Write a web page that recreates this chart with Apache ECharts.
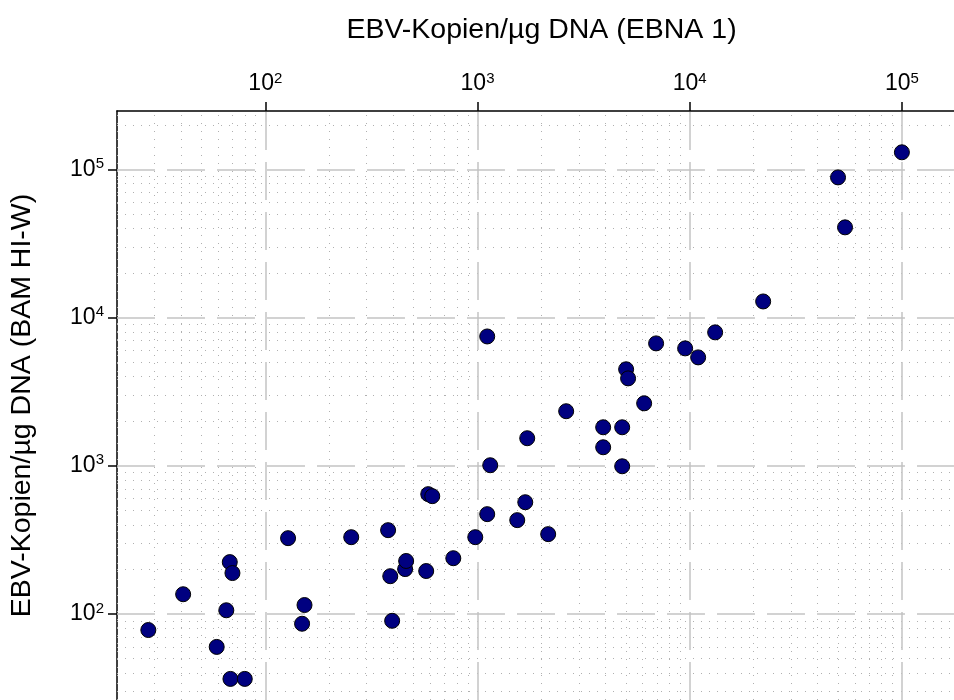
<!DOCTYPE html>
<html>
<head>
<meta charset="utf-8">
<script src="https://cdn.jsdelivr.net/npm/echarts@6/dist/echarts.min.js"></script>
<style>
  html, body { margin: 0; padding: 0; background: #fff; }
  #chart { width: 954px; height: 700px; }
</style>
</head>
<body>
<div id="chart"></div>
<script>
// EBNA 1 (x) vs BAM HI-W (y), copies per ug DNA
let ebna = [28.1, 41, 59, 65.5, 68, 70, 68.5, 80, 128, 153, 149, 254, 379, 388, 396,
    456, 461, 573, 586, 612, 769, 976, 1111, 1111, 1148, 1539, 1679, 1715, 2153,
    2617, 3910, 3910, 4806, 4806, 5016, 5124, 6099, 6944, 9517, 10960, 13180,
    22190, 50000, 53950, 100000];
let bamhiw = [78, 136, 60, 106, 224, 189, 36.5, 36.5, 325, 115, 86, 330, 368, 180, 90,
    201, 228, 195, 644, 624, 238, 330, 472, 7460, 1009, 430, 568, 1535, 346,
    2335, 1820, 1334, 993, 1820, 4480, 3890, 2640, 6700, 6200, 5390, 7950,
    12850, 88300, 40640, 130400];

let decades = [100, 1000, 10000, 100000];
let minorX = [20, 30, 40, 50, 60, 70, 80, 90, 200, 300, 400, 500, 600, 700, 800, 900,
    2000, 3000, 4000, 5000, 6000, 7000, 8000, 9000,
    20000, 30000, 40000, 50000, 60000, 70000, 80000, 90000];
let minorY = [30, 40, 50, 60, 70, 80, 90, 200, 300, 400, 500, 600, 700, 800, 900,
    2000, 3000, 4000, 5000, 6000, 7000, 8000, 9000,
    20000, 30000, 40000, 50000, 60000, 70000, 80000, 90000, 200000];

let font = 'Liberation Sans';
let ctx = document.getElementById("chart");
let chart = echarts.init(ctx);

function powLabel(v){
    let e = Math.log10(v);
    if (Math.abs(e - Math.round(e)) > 1e-6) return '';
    return '{b|10}{s|' + Math.round(e) + '}';
}
let labelRich = {
    b: { fontSize: 23, fontFamily: font, color: '#000', lineHeight: 26 },
    s: { fontSize: 15, fontFamily: font, color: '#000', verticalAlign: 'top', lineHeight: 26 }
};

let minorStyle = { color: '#b0b0b0', width: 1, type: [1, 7] };
let majorStyle = { color: '#c4c4c4', width: 1.5, type: [38, 12] };

let gridLines = []
    .concat(minorX.map(v => ({ xAxis: v, lineStyle: minorStyle })))
    .concat(minorY.map(v => ({ yAxis: v, lineStyle: minorStyle })))
    .concat(decades.map(v => ({ xAxis: v, lineStyle: majorStyle })))
    .concat(decades.map(v => ({ yAxis: v, lineStyle: majorStyle })));

let option = {
    animation: false,
    grid: { left: 117, top: 111, right: 0, bottom: 0 },
    xAxis: {
        type: 'log',
        position: 'top',
        min: 20,
        max: 176000,
        name: 'EBV-Kopien/µg DNA (EBNA 1)',
        nameLocation: 'middle',
        nameGap: 66,
        nameTextStyle: { fontSize: 28.5, fontFamily: font, color: '#000', padding: [0, 0, 0, 12] },
        axisLine: { lineStyle: { color: '#000', width: 1.5 } },
        axisTick: { customValues: decades, length: 9, lineStyle: { color: '#000', width: 1.5 } },
        axisLabel: { customValues: decades, margin: 14, formatter: powLabel, rich: labelRich },
        splitLine: { show: false }
    },
    yAxis: {
        type: 'log',
        min: 26.3,
        max: 247700,
        name: 'EBV-Kopien/µg DNA (BAM HI-W)',
        nameLocation: 'middle',
        nameGap: 80,
        nameTextStyle: { fontSize: 28.5, fontFamily: font, color: '#000' },
        axisLine: { lineStyle: { color: '#000', width: 1.5 } },
        axisTick: { customValues: decades, length: 9, lineStyle: { color: '#000', width: 1.5 } },
        axisLabel: { customValues: decades, margin: 13, formatter: powLabel, rich: labelRich },
        splitLine: { show: false }
    },
    series: [{
        name: 'grid',
        type: 'scatter',
        data: [],
        z: 1,
        silent: true,
        markLine: {
            silent: true,
            z: 1,
            symbol: 'none',
            label: { show: false },
            data: gridLines
        }
    }, {
        name: 'Proben',
        type: 'scatter',
        z: 3,
        symbolSize: 15,
        itemStyle: { color: '#000080', opacity: 1, borderColor: '#000', borderWidth: 1 },
        data: ebna.map((x, i) => [x, bamhiw[i]])
    }]
};

chart.setOption(option, true);
window.onresize = () => {
    chart.resize();
};
</script>
</body>
</html>
